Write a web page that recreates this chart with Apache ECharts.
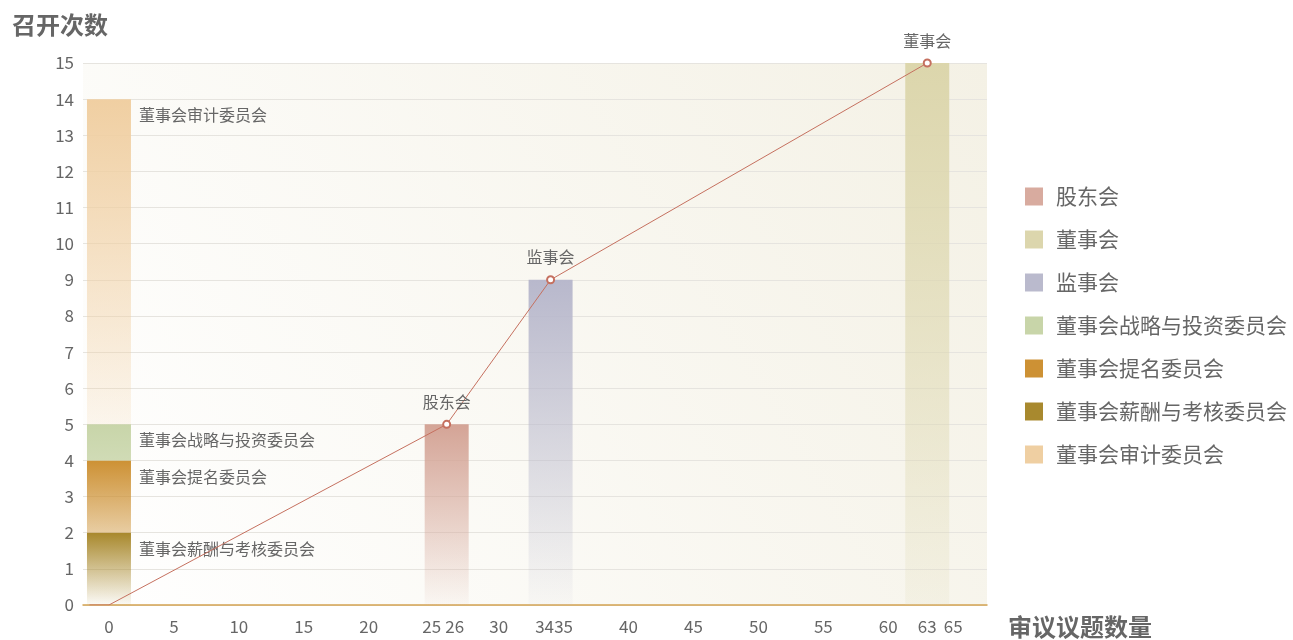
<!DOCTYPE html>
<html>
<head>
<meta charset="utf-8">
<script src="https://cdn.jsdelivr.net/npm/echarts@6/dist/echarts.min.js"></script>
<style>
html,body{margin:0;padding:0;background:#fff;}
#chart{width:1293px;height:640px;}
</style>
</head>
<body>
<div id="chart"></div>
<script>
// ---- data ----
const xTickValues = [0, 5, 10, 15, 20, 25, 26, 30, 34, 35, 40, 45, 50, 55, 60, 63, 65];
const meetingNames = ['股东会', '董事会', '监事会'];
const meetingTopics = [26, 63, 34];
const meetingCounts = [5, 15, 9];
// committees, stacked bottom -> top
const committeeNames = ['董事会薪酬与考核委员会', '董事会提名委员会', '董事会战略与投资委员会', '董事会审计委员会'];
const committeeTopics = [0, 0, 0, 0];
const committeeCounts = [2, 2, 1, 9];
const legendOrder = ['股东会', '董事会', '监事会', '董事会战略与投资委员会', '董事会提名委员会', '董事会薪酬与考核委员会', '董事会审计委员会'];
const lineX = [-1.5, 0, 26, 34, 63];
const lineY = [0, 0, 5, 9, 15];
const lineLabels = ['', '', '股东会', '监事会', '董事会'];

// ---- styles ----
const FONT = '"Noto Sans CJK SC", "Noto Sans", sans-serif';
const BAR_W = 44;
const colors = {
  '股东会': ['rgba(212,164,150,1)', 'rgba(212,164,150,0.05)'],
  '董事会': ['rgba(220,214,172,1)', 'rgba(220,214,172,0.15)'],
  '监事会': ['rgba(184,184,204,1)', 'rgba(184,184,204,0.05)'],
  '董事会战略与投资委员会': ['rgba(200,213,169,1)', 'rgba(200,213,169,0.85)'],
  '董事会提名委员会': ['rgba(205,145,52,1)', 'rgba(205,145,52,0.45)'],
  '董事会薪酬与考核委员会': ['rgba(168,136,44,1)', 'rgba(168,136,44,0.04)'],
  '董事会审计委员会': ['rgba(240,207,162,1)', 'rgba(240,207,162,0.18)']
};
const legendColors = {
  '股东会': '#d8ab9f', '董事会': '#dcd6ad', '监事会': '#babacd',
  '董事会战略与投资委员会': '#c8d5a9', '董事会提名委员会': '#cd9134',
  '董事会薪酬与考核委员会': '#a8892e', '董事会审计委员会': '#efcfa2'
};
function grad(name) {
  const c = colors[name];
  return new echarts.graphic.LinearGradient(0, 0, 0, 1, [
    { offset: 0, color: c[0] }, { offset: 1, color: c[1] }
  ]);
}
const labelShift = { 25: [0, 4, 0, 0], 26: [0, 0, 0, 16], 34: [0, 12, 0, 0] };

const series = [];
meetingNames.forEach((n, i) => {
  series.push({
    name: n, type: 'bar', barWidth: BAR_W, barGap: '-100%',
    itemStyle: { color: grad(n) },
    data: [[meetingTopics[i], meetingCounts[i]]]
  });
});
// committees stacked: base computed from the counts
let cum = 0;
committeeNames.forEach((n, i) => {
  const base = cum;
  cum += committeeCounts[i];
  series.push({
    name: n, type: 'custom',
    itemStyle: { color: legendColors[n] },
    encode: { x: 0, y: [1, 2] },
    data: [[committeeTopics[i], base, cum]],
    renderItem: function (params, api) {
      const x = api.value(0);
      const pTop = api.coord([x, api.value(2)]);
      const pBot = api.coord([x, api.value(1)]);
      return {
        type: 'group',
        children: [
          {
            type: 'rect',
            shape: { x: pTop[0] - BAR_W / 2, y: pTop[1], width: BAR_W, height: pBot[1] - pTop[1] },
            style: { fill: grad(n) }
          },
          {
            type: 'text',
            x: pTop[0] - BAR_W / 2 + 52, y: pTop[1] + 8,
            style: { text: n, fill: '#666', fontSize: 16, fontFamily: FONT, verticalAlign: 'top', align: 'left' }
          }
        ]
      };
    }
  });
});
series.push({
  name: '趋势', type: 'line', z: 5,
  symbol: 'emptyCircle', symbolSize: 7,
  lineStyle: { color: '#c5705f', width: 1 },
  itemStyle: { color: '#c5705f', borderColor: '#c5705f', borderWidth: 1.2 },
  label: {
    show: true, position: 'top', distance: 10,
    formatter: p => p.name, fontSize: 16, color: '#666', fontFamily: FONT
  },
  data: lineX.map((x, i) => ({
    value: [x, lineY[i]], name: lineLabels[i],
    symbol: lineLabels[i] ? 'emptyCircle' : 'none'
  }))
});

const chart = echarts.init(document.getElementById('chart'));
chart.setOption({
  animation: false,
  textStyle: { fontFamily: FONT },
  title: {
    text: '召开次数', left: 12, top: 13, padding: 0,
    textStyle: { fontSize: 24, fontWeight: 'bold', color: '#666', fontFamily: FONT }
  },
  grid: {
    left: 83, right: 306, top: 63, bottom: 35, show: true, borderWidth: 0,
    outerBoundsMode: 'none', containLabel: false,
    backgroundColor: new echarts.graphic.LinearGradient(0, 1, 1, 0, [
      { offset: 0, color: '#ffffff' }, { offset: 1, color: '#f4f1e5' }
    ])
  },
  legend: {
    orient: 'vertical', left: 1025, top: 186, padding: 0,
    itemWidth: 18, itemHeight: 18, itemGap: 22, icon: 'rect',
    textStyle: { fontSize: 21, color: '#666', fontFamily: FONT, padding: [0, 0, 0, 8] },
    data: legendOrder.map(n => ({ name: n, itemStyle: { color: legendColors[n] } }))
  },
  xAxis: {
    type: 'value', min: -2, max: 67.6,
    name: '审议议题数量', nameLocation: 'end', nameGap: 21,
    nameTextStyle: { fontSize: 24, fontWeight: 'bold', color: '#666', verticalAlign: 'top', lineHeight: 44 },
    axisLine: { show: true, lineStyle: { color: '#d4a352', width: 1.5 } },
    axisTick: { show: false },
    splitLine: { show: false },
    axisLabel: {
      customValues: xTickValues, fontSize: 17, color: '#666', margin: 13,
      formatter: v => (labelShift[v] ? '{s' + v + '|' + v + '}' : String(v)),
      rich: {
        s25: { fontSize: 17, color: '#666', padding: labelShift[25] },
        s26: { fontSize: 17, color: '#666', padding: labelShift[26] },
        s34: { fontSize: 17, color: '#666', padding: labelShift[34] }
      }
    }
  },
  yAxis: {
    type: 'value', min: 0, max: 15, interval: 1,
    axisLine: { show: false }, axisTick: { show: false },
    axisLabel: { fontSize: 17, color: '#666', margin: 9 },
    splitLine: { lineStyle: { color: '#e6e4df', width: 1 } }
  },
  series: series
});
</script>
</body>
</html>
